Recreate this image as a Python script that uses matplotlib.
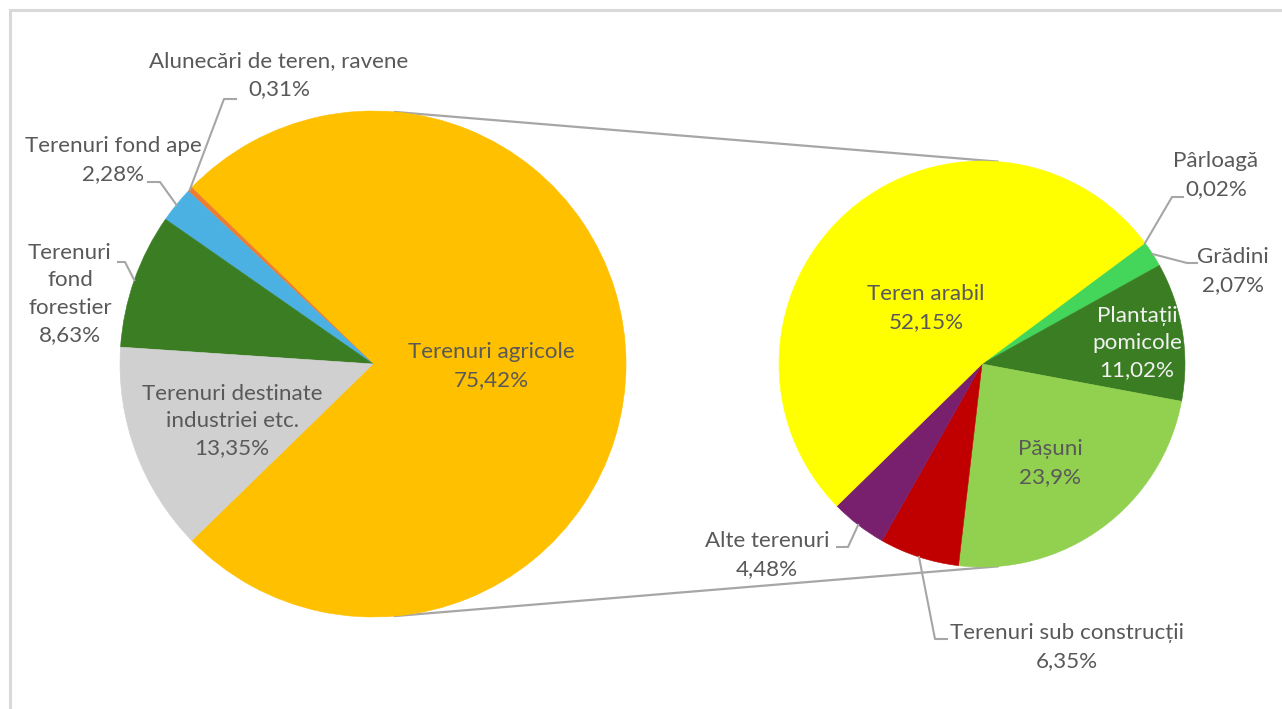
import matplotlib
matplotlib.use('Agg')
import matplotlib.pyplot as plt
import numpy as np

# ---------------- data ----------------
main_labels = ['Terenuri agricole', 'Alunecări de teren, ravene', 'Terenuri fond ape',
               'Terenuri\nfond\nforestier', 'Terenuri destinate\nindustriei etc.']
main_values = [75.42, 0.31, 2.28, 8.63, 13.35]
main_colors = ['#FFC000', '#ED7D31', '#4BB1E2', '#3A7D22', '#D0D0D0']

sub_labels = ['Pârloagă', 'Grădini', 'Plantații\npomicole', 'Pășuni',
              'Terenuri sub construcții', 'Alte terenuri', 'Teren arabil']
sub_values = [0.02, 2.07, 11.02, 23.9, 6.35, 4.48, 52.15]
sub_colors = ['#A9D18E', '#44D65B', '#3A7D22', '#92D050', '#C00000', '#78206E', '#FFFF00']

# ---------------- layout ----------------
W, H = 1282, 709
fig = plt.figure(figsize=(W / 100, H / 100), dpi=100)
ax = fig.add_axes([0, 0, 1, 1])


def P(x, y):
    return (x, H - y)


main_c = P(373, 364)
main_r = 253
sub_c = P(982, 364)
sub_r = 203

wp = dict(linewidth=0.4)
main_start = -main_values[0] * 3.6 / 2
wm, _ = ax.pie(main_values, colors=main_colors, startangle=main_start, counterclock=True,
               center=main_c, radius=main_r, wedgeprops=wp, frame=True)
ws, _ = ax.pie(sub_values, colors=sub_colors, startangle=36.6, counterclock=False,
               center=sub_c, radius=sub_r, wedgeprops=wp, frame=True)
for w in list(wm) + list(ws):
    w.set_edgecolor(w.get_facecolor())

ax.set_xlim(0, W)
ax.set_ylim(0, H)
ax.set_aspect('equal')
ax.axis('off')

# connector lines
conn_col = '#A6A6A6'
for sgn in (1, -1):
    a = np.deg2rad(85.3) * sgn
    p1 = (main_c[0] + main_r * np.cos(a), main_c[1] + main_r * np.sin(a))
    p2 = (sub_c[0] + sub_r * np.cos(a), sub_c[1] + sub_r * np.sin(a))
    ax.plot([p1[0], p2[0]], [p1[1], p2[1]], color=conn_col, lw=1.6, zorder=0.5,
            solid_capstyle='butt')

# chart border (top and left visible)
ax.plot([10, W + 5], [H - 10, H - 10], color='#D9D9D9', lw=2.2, clip_on=False)
ax.plot([10, 10], [H - 10, -5], color='#D9D9D9', lw=2.2, clip_on=False)


def fmt(v):
    return ('%g' % v).replace('.', ',') + '%'


txt_col = '#595959'
font = ['Lato', 'DejaVu Sans']
fs = 16.1
lsp = 1.45

main_pos = [(491, 366), (279, 75), (113, 160), (70, 294), (232, 421)]
main_txtcol = [txt_col] * 5
for lab, v, pos, c in zip(main_labels, main_values, main_pos, main_txtcol):
    ax.text(*P(*pos), lab + '\n' + fmt(v), ha='center', va='center', fontsize=fs,
            color=c, family=font, linespacing=lsp, zorder=5)

sub_pos = [(1216, 175), (1233, 271), (1137, 343), (1050, 463), (1067, 647), (767, 555), (926, 308)]
sub_txtcol = [txt_col, txt_col, '#F2F2F2', txt_col, txt_col, txt_col, txt_col]
for lab, v, pos, c in zip(sub_labels, sub_values, sub_pos, sub_txtcol):
    ax.text(*P(*pos), lab + '\n' + fmt(v), ha='center', va='center', fontsize=fs,
            color=c, family=font, linespacing=lsp, zorder=5)

# leader lines: (wedge list, index, elbow px, end px)
leaders = [
    (wm, main_c, main_r, 1, (224, 99), (236, 99)),
    (wm, main_c, main_r, 2, (160, 182), (148, 182)),
    (wm, main_c, main_r, 3, (125, 262), (118, 262)),
    (ws, sub_c, sub_r, 0, (1172, 197), (1183, 197)),
    (ws, sub_c, sub_r, 1, (1187, 263), (1197, 263)),
    (ws, sub_c, sub_r, 5, (848, 547), (837, 547)),
    (ws, sub_c, sub_r, 4, (935, 639), (947, 639)),
]
for wl, c, r, i, elb, end in leaders:
    w = wl[i]
    ang = np.deg2rad((w.theta1 + w.theta2) / 2)
    sx, sy = c[0] + r * np.cos(ang), c[1] + r * np.sin(ang)
    ex, ey = P(*elb)
    fx, fy = P(*end)
    ax.plot([sx, ex, fx], [sy, ey, fy], color=conn_col, lw=1.5, zorder=4)

fig.savefig('out.png', dpi=100, facecolor='white')
